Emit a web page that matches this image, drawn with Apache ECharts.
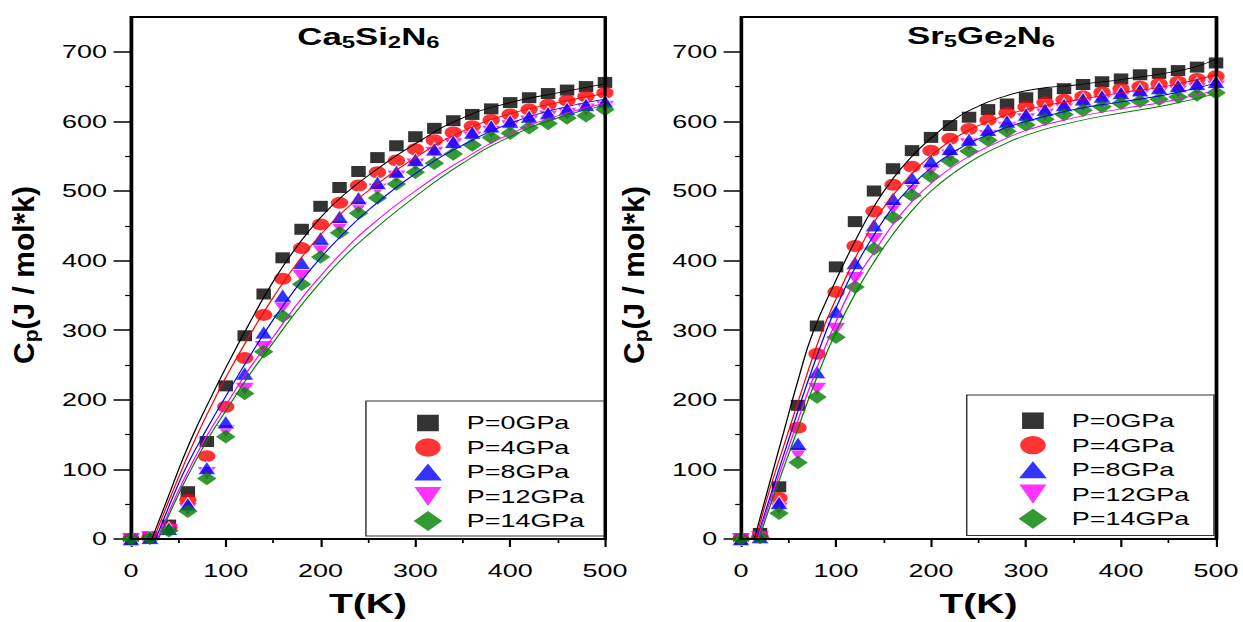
<!DOCTYPE html>
<html>
<head>
<meta charset="utf-8">
<script src="https://cdn.jsdelivr.net/npm/echarts@6/dist/echarts.min.js"></script>
<style>
  html, body { margin: 0; padding: 0; background: #fff; overflow: hidden; width: 1243px; height: 622px; }
  /* the figure is laid out on a narrower canvas and stretched horizontally */
  #chart { width: 858px; height: 622px; transform: scaleX(1.448718); transform-origin: 0 0; }
</style>
</head>
<body>
<div id="chart"></div>
<script>
// ---- data -------------------------------------------------------------
const temps = [0, 20, 40, 60, 80, 100, 120, 140, 160, 180, 200, 220, 240, 260,
               280, 300, 320, 340, 360, 380, 400, 420, 440, 460, 480, 500];

const seriesNames = ['P=0GPa', 'P=4GPa', 'P=8GPa', 'P=12GPa', 'P=14GPa'];

// Ca5Si2N6 heat capacity, J/(mol K)
const caP0  = [0, 3, 20, 68, 140, 220, 292, 352, 404, 445, 478, 505, 528, 548, 565, 578, 590, 601, 610, 618, 627, 634, 640, 645, 650, 656];
const caP4  = [0, 2, 17, 56, 119, 190, 260, 322, 374, 418, 452, 483, 508, 527, 544, 560, 573, 584, 593, 602, 610, 617, 624, 630, 636, 641];
const caP8  = [0, 2, 15, 50, 102, 168, 238, 297, 350, 397, 432, 463, 490, 512, 528, 545, 560, 571, 584, 593, 600, 607, 612, 618, 624, 629];
const caP12 = [0, 2, 13, 43, 95, 155, 216, 276, 333, 378, 416, 448, 476, 502, 521, 538, 555, 567, 577, 585, 593, 600, 607, 611, 617, 621];
const caP14 = [0, 1, 12, 40, 87, 147, 209, 269, 320, 366, 405, 440, 468, 490, 510, 527, 540, 553, 566, 577, 583, 591, 597, 605, 608, 617];

// Sr5Ge2N6 heat capacity, J/(mol K)
const srP0  = [0, 8, 75, 192, 306, 391, 456, 500, 532, 558, 577, 594, 606, 617, 625, 634, 640, 647, 653, 657, 661, 667, 669, 673, 678, 684];
const srP4  = [0, 4, 59, 160, 266, 355, 421, 471, 509, 535, 558, 575, 589, 602, 612, 621, 627, 631, 636, 642, 647, 650, 654, 657, 661, 665];
const srP8  = [0, 3, 52, 137, 240, 327, 397, 451, 489, 519, 543, 561, 574, 588, 600, 610, 617, 624, 632, 636, 641, 645, 648, 651, 654, 657];
const srP12 = [0, 3, 44, 122, 216, 302, 375, 431, 475, 505, 530, 551, 567, 579, 591, 603, 610, 617, 624, 629, 634, 637, 641, 643, 647, 650];
const srP14 = [0, 2, 37, 110, 204, 290, 362, 417, 462, 494, 521, 543, 557, 573, 586, 595, 603, 610, 616, 621, 626, 629, 632, 635, 638, 641];

// fitted curves, [T, Cp] pairs
const caFit0  = [[22,0],[30,28],[40,63],[55,116],[70,163],[85,205],[100,246],[125,310],[150,370],[175,420],[200,462],[225,495],[250,522],[300,568],[350,605],[400,627],[450,641],[500,654]];
const caFit4  = [[24,0],[30,21],[40,55],[55,104],[70,150],[85,192],[100,232],[125,292],[150,347],[175,396],[200,437],[225,472],[250,500],[300,548],[350,586],[400,611],[450,627],[500,640]];
const caFit8  = [[26,0],[35,30],[45,63],[60,108],[80,158],[100,205],[125,262],[150,315],[175,362],[200,404],[225,440],[250,472],[300,525],[350,566],[400,597],[450,618],[500,632]];
const caFit12 = [[28,0],[35,23],[45,54],[60,97],[80,148],[100,192],[125,245],[150,290],[175,337],[200,378],[225,415],[250,447],[300,500],[350,545],[400,582],[450,608],[500,626]];
const caFit14 = [[29,0],[35,19],[45,49],[60,91],[80,141],[100,184],[125,236],[150,282],[175,328],[200,369],[225,406],[250,437],[300,492],[350,540],[400,578],[450,605],[500,623]];

const srFit0  = [[14,0],[30,80],[46,159],[60,228],[76,298],[100,372],[120,428],[140,478],[160,518],[180,550],[200,576],[225,603],[250,622],[275,635],[300,644],[325,649],[350,652],[375,656],[400,660],[450,670],[480,679],[500,690]];
const srFit4  = [[15.5,0],[30,70],[51,159],[65,218],[83,290],[100,345],[120,403],[140,455],[160,494],[180,525],[200,551],[225,576],[250,594],[275,607],[300,617],[350,630],[400,641],[450,651],[500,667]];
const srFit8  = [[16.5,0],[30,58],[54,159],[70,225],[90,300],[100,332],[120,390],[140,437],[160,477],[180,508],[200,533],[225,557],[250,575],[275,589],[300,600],[350,617],[400,628],[450,639],[500,655]];
const srFit12 = [[17.5,0],[30,52],[57,159],[75,228],[96,300],[120,370],[140,412],[160,452],[180,485],[200,511],[225,537],[250,557],[275,573],[300,587],[350,605],[400,618],[450,629],[500,645]];
const srFit14 = [[19,0],[30,45],[60,159],[80,233],[100.7,300],[120,352],[140,398],[160,438],[180,472],[200,500],[225,527],[250,549],[275,566],[300,580],[350,599],[400,612],[450,624],[500,640]];

const yTicks = [0, 100, 200, 300, 400, 500, 600, 700];
const yMinorTicks = [50, 150, 250, 350, 450, 550, 650];

// ---- styling ----------------------------------------------------------
const S = 1243 / 858;              // horizontal stretch applied by CSS
const FONT = 'Liberation Sans, Arial, Helvetica, sans-serif';
const colors = ['#000000', '#ff0000', '#0000ff', '#ff00ff', '#008000'];
const marks = [
  { symbol: 'rect',     size: [10, 11],   rotate: 0 },
  { symbol: 'circle',   size: [12, 12],   rotate: 0 },
  { symbol: 'triangle', size: [12.5, 13.5], rotate: 0 },
  { symbol: 'triangle', size: [12.5, 12], rotate: 180 },
  { symbol: 'diamond',  size: [13.5, 13.5], rotate: 0 }
];
// legend glyphs on a 20x20 box (the leading moves pin the box size)
const legendIcons = [
  'path://M0,0M20,20M2.5,1.75h15v16.5h-15z',
  'path://M0,0M20,20M1.2,10A8.8,9.15 0 1,0 18.8,10A8.8,9.15 0 1,0 1.2,10z',
  'path://M0,0M20,20M10,1.55L19.6,18.45L0.4,18.45z',
  'path://M0,0M20,20M0.7,0.4L19.3,0.4L10,19.6z',
  'path://M0,0M20,20M10,0L19.9,10L10,20L0.1,10z'
];
// drawing order of the markers (the inverted triangles sit underneath)
const drawOrder = [0, 1, 3, 2, 4];

const grids = [
  { left: 90.4,  top: 17, width: 327.2, height: 525 },
  { left: 511.5, top: 17, width: 327.9, height: 525 }
];

const frameLine = { show: true, onZero: false, lineStyle: { color: '#000', width: 2 } };

function xAxisFor(g) {
  return {
    gridIndex: g, type: 'value', position: 'bottom', min: 0, max: 500, interval: 100,
    axisLine: frameLine,
    axisTick: { show: true, inside: false, length: 8, lineStyle: { color: '#000', width: 1.5 } },
    minorTick: { show: true, splitNumber: 2, length: 4, lineStyle: { color: '#000', width: 1.2 } },
    splitLine: { show: false }, minorSplitLine: { show: false },
    axisLabel: { margin: 22, fontSize: 18.6, color: '#000', fontFamily: FONT },
    name: 'T(K)', nameLocation: 'middle', nameGap: 51,
    nameTextStyle: { fontSize: 27, fontWeight: 'bold', color: '#000', fontFamily: FONT }
  };
}
function yAxisFor(g) {
  return {
    gridIndex: g, type: 'value', position: 'left', min: 0, max: 750, interval: 100,
    axisLine: frameLine,
    axisTick: { show: true, inside: false, length: 12, customValues: yTicks, lineStyle: { color: '#000', width: 1.5 } },
    splitLine: { show: false },
    axisLabel: {
      margin: 16.5, fontSize: 18.6, color: '#000', fontFamily: FONT,
      customValues: yTicks,
      formatter: v => (v % 100 === 0 ? String(v) : '')
    }
  };
}
function yMinorAxisFor(g) {
  return {
    gridIndex: g, type: 'value', min: 0, max: 750, interval: 50, position: 'left',
    axisLine: { show: false },
    axisTick: { show: true, inside: false, length: 4, customValues: yMinorTicks, lineStyle: { color: '#000', width: 1.2 } },
    axisLabel: { show: false }, splitLine: { show: false }
  };
}
function yRightFor(g) {
  return {
    gridIndex: g, type: 'value', min: 0, max: 750, position: 'right',
    axisLine: frameLine, axisTick: { show: false }, axisLabel: { show: false }, splitLine: { show: false }
  };
}

const panels = [
  { points: [caP0, caP4, caP8, caP12, caP14], fits: [caFit0, caFit4, caFit8, caFit12, caFit14] },
  { points: [srP0, srP4, srP8, srP12, srP14], fits: [srFit0, srFit4, srFit8, srFit12, srFit14] }
];

const series = [];
panels.forEach((p, g) => {
  drawOrder.forEach(i => {
    series.push({
      type: 'scatter', name: seriesNames[i],
      xAxisIndex: g, yAxisIndex: g * 3,
      symbol: marks[i].symbol, symbolSize: marks[i].size, symbolRotate: marks[i].rotate,
      itemStyle: i === 2 ? { color: colors[i], borderColor: '#fff', borderWidth: 0.8 } : { color: colors[i] },
      data: temps.map((t, k) => [t, p.points[i][k]]),
      z: 2
    });
  });
  p.fits.forEach((f, i) => {
    series.push({
      type: 'line', name: 'fit ' + seriesNames[i],
      xAxisIndex: g, yAxisIndex: g * 3,
      data: f, showSymbol: false, symbol: 'none',
      smooth: true,
      lineStyle: { color: colors[i], width: 0.9 },
      z: 3
    });
  });
});

function legendFor(left, top, pad) {
  return {
    show: true, orient: 'vertical', left: left, top: top,
    data: seriesNames.map((n, i) => ({ name: n, icon: legendIcons[i], itemStyle: { color: colors[i], borderWidth: 0 } })),
    selectedMode: false,
    itemWidth: 20, itemHeight: 20, itemGap: 4.5, symbolRotate: 0, symbolKeepAspect: true,
    padding: pad, borderColor: '#333', borderWidth: 1, backgroundColor: '#fff',
    textStyle: { fontSize: 18.6, fontFamily: FONT, color: '#000', lineHeight: 20, padding: [0, 0, 0, 11.8] }
  };
}

function formulaText(x, y, text) {
  return {
    type: 'text', x: x, y: y, z: 10,
    style: {
      text: text, align: 'center', verticalAlign: 'middle',
      rich: {
        a: { fontSize: 24, fontWeight: 'bold', fontFamily: FONT, fill: '#000', lineHeight: 28, verticalAlign: 'middle' },
        s: { fontSize: 16.5, fontWeight: 'bold', fontFamily: FONT, fill: '#000', lineHeight: 11.4, verticalAlign: 'bottom' }
      }
    }
  };
}
function cpTitle(x, y) {
  return {
    type: 'text', x: x, y: y, rotation: Math.PI / 2, scaleY: 1 / S, z: 10,
    style: {
      text: '{c|C}{p|p}{c|(J / mol*k)}', align: 'center', verticalAlign: 'middle',
      rich: {
        c: { fontSize: 30, fontWeight: 'bold', fontFamily: FONT, fill: '#000', lineHeight: 34, verticalAlign: 'middle' },
        p: { fontSize: 21, fontWeight: 'bold', fontFamily: FONT, fill: '#000', lineHeight: 13.7, verticalAlign: 'bottom' }
      }
    }
  };
}

const texts = [
  formulaText(254.3, 36.5, '{a|Ca}{s|5}{a|Si}{s|2}{a|N}{s|6}'),
  formulaText(677.2, 35.5, '{a|Sr}{s|5}{a|Ge}{s|2}{a|N}{s|6}'),
  cpTitle(16.5, 275),
  cpTitle(437.6, 275)
];

const option = {
  animation: false,
  backgroundColor: '#fff',
  grid: grids,
  xAxis: [xAxisFor(0), xAxisFor(1)],
  yAxis: [yAxisFor(0), yMinorAxisFor(0), yRightFor(0), yAxisFor(1), yMinorAxisFor(1), yRightFor(1)],
  legend: [
    legendFor(252.6, 401, [12, 14, 5, 32.8]),
    legendFor(667.3, 395, [15.7, 17, 6.7, 35.7])
  ],
  graphic: texts,
  series: series
};

const chart = echarts.init(document.getElementById('chart'), null, { renderer: 'svg' });
chart.setOption(option);

// closed frame around each plot box, placed through the axis scales
const frames = [0, 1].map(g => {
  const a = chart.convertToPixel({ gridIndex: g }, [0, 750]);
  const b = chart.convertToPixel({ gridIndex: g }, [500, 0]);
  return {
    type: 'rect', z: 5, silent: true,
    shape: { x: a[0], y: a[1], width: b[0] - a[0], height: b[1] - a[1] },
    style: { fill: 'none', stroke: '#000', lineWidth: 2 }
  };
});
chart.setOption({ graphic: texts.concat(frames) });
</script>
</body>
</html>
